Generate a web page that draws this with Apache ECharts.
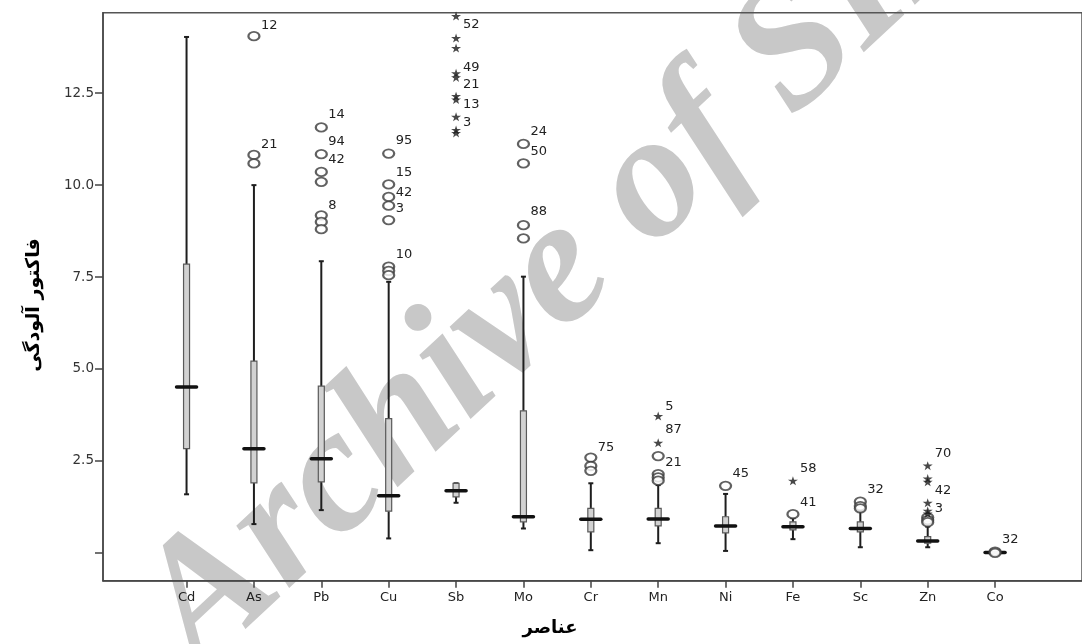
<!DOCTYPE html>
<html>
<head>
<meta charset="utf-8">
<script src="https://cdn.jsdelivr.net/npm/echarts@6/dist/echarts.min.js"></script>
<style>
html,body{margin:0;padding:0;background:#fff;}
#chart{width:1082px;height:644px;}
</style>
</head>
<body>
<div id="chart"></div>
<script>
// ---------- data ----------
const categories = ['Cd','As','Pb','Cu','Sb','Mo','Cr','Mn','Ni','Fe','Sc','Zn','Co'];
const whiskerLow  = [1.59, 0.78, 1.16, 0.39, 1.36, 0.66, 0.07, 0.26, 0.05, 0.37, 0.15, 0.15, 0.01];
const q1          = [2.83, 1.90, 1.93, 1.13, 1.52, 0.84, 0.57, 0.73, 0.54, 0.62, 0.57, 0.26, 0.01];
const median      = [4.51, 2.83, 2.56, 1.55, 1.69, 0.98, 0.91, 0.92, 0.73, 0.71, 0.66, 0.32, 0.01];
const q3          = [7.85, 5.21, 4.53, 3.65, 1.89, 3.86, 1.21, 1.21, 0.98, 0.84, 0.84, 0.44, 0.01];
const whiskerHigh = [14.03, 10.0, 7.93, 7.37, 1.89, 7.51, 1.89, 1.84, 1.60, 0.94, 1.14, 0.71, 0.01];

const circleOutliers = [
  ['As',14.05],['As',10.82],['As',10.59],
  ['Pb',11.57],['Pb',10.84],['Pb',10.36],['Pb',10.09],['Pb',9.18],['Pb',9.00],['Pb',8.80],
  ['Cu',10.86],['Cu',10.02],['Cu',9.68],['Cu',9.44],['Cu',9.05],['Cu',7.78],['Cu',7.67],['Cu',7.55],
  ['Mo',11.12],['Mo',10.59],['Mo',8.91],['Mo',8.55],
  ['Cr',2.59],['Cr',2.36],['Cr',2.23],
  ['Mn',2.63],['Mn',2.14],['Mn',2.05],['Mn',1.96],
  ['Ni',1.82],
  ['Fe',1.05],
  ['Sc',1.39],['Sc',1.27],['Sc',1.21],
  ['Zn',0.96],['Zn',0.89],['Zn',0.83],
  ['Co',0.03],['Co',0.0]
];
const starOutliers = [
  ['Sb',14.60],['Sb',14.00],['Sb',13.73],['Sb',13.04],['Sb',12.93],['Sb',12.42],['Sb',12.33],['Sb',11.86],['Sb',11.50],['Sb',11.42],
  ['Mn',3.72],['Mn',2.99],
  ['Fe',1.96],
  ['Zn',2.37],['Zn',2.02],['Zn',1.93],['Zn',1.36],['Zn',1.14],['Zn',1.07]
];
const outlierLabels = [
  ['As',14.35,'12'],['As',11.11,'21'],
  ['Pb',11.92,'14'],['Pb',11.18,'94'],['Pb',10.70,'42'],['Pb',9.44,'8'],
  ['Cu',11.20,'95'],['Cu',10.35,'15'],['Cu',9.80,'42'],['Cu',9.35,'3'],['Cu',8.12,'10'],
  ['Sb',14.37,'52'],['Sb',13.19,'49'],['Sb',12.74,'21'],['Sb',12.19,'13'],['Sb',11.69,'3'],
  ['Mo',11.45,'24'],['Mo',10.91,'50'],['Mo',9.27,'88'],
  ['Cr',2.87,'75'],
  ['Mn',3.97,'5'],['Mn',3.34,'87'],['Mn',2.45,'21'],
  ['Ni',2.14,'45'],
  ['Fe',2.28,'58'],['Fe',1.36,'41'],
  ['Sc',1.71,'32'],
  ['Zn',2.70,'70'],['Zn',1.68,'42'],['Zn',1.21,'3'],
  ['Co',0.36,'32']
];
const yTickValues  = [0, 2.5, 5, 7.5, 10, 12.5];
const yLabelValues = [2.5, 5, 7.5, 10, 12.5];
const xTitle = 'عناصر';
const yTitle = 'فاکتور آلودگی';
const watermark = 'Archive of SID';

// ---------- build ----------
const catPos = c => categories.indexOf(c) + 1;
const boxData = categories.map((c, i) => [i + 1, whiskerLow[i], q1[i], median[i], q3[i], whiskerHigh[i]]);
const circleData = circleOutliers.map(d => [catPos(d[0]), d[1]]);
const starData = starOutliers.map(d => [catPos(d[0]), d[1]]);
const labelData = outlierLabels.map(d => [catPos(d[0]), d[1]]);

const STAR = 'path://M50,0 L61,35 L98,35 L68,57 L79,91 L50,70 L21,91 L32,57 L2,35 L39,35 Z';

function renderBox(params, api) {
  const x = api.value(0);
  const lo = api.coord([x, api.value(1)]);
  const a = api.coord([x, api.value(2)]);
  const m = api.coord([x, api.value(3)]);
  const b = api.coord([x, api.value(4)]);
  const hi = api.coord([x, api.value(5)]);
  const cx = lo[0];
  const ws = {stroke: '#1e1e1e', lineWidth: 2};
  return {
    type: 'group',
    children: [
      {type: 'line', shape: {x1: cx, y1: hi[1], x2: cx, y2: b[1]}, style: ws},
      {type: 'line', shape: {x1: cx, y1: a[1], x2: cx, y2: lo[1]}, style: ws},
      {type: 'line', shape: {x1: cx - 2.5, y1: hi[1], x2: cx + 2.5, y2: hi[1]}, style: ws},
      {type: 'line', shape: {x1: cx - 2.5, y1: lo[1], x2: cx + 2.5, y2: lo[1]}, style: ws},
      {type: 'rect', shape: {x: cx - 3, y: b[1], width: 6, height: Math.max(a[1] - b[1], 0)},
        style: {fill: '#d2d2d2', stroke: '#5a5a5a', lineWidth: 1.2}},
      {type: 'line', shape: {x1: cx - 10, y1: m[1], x2: cx + 10, y2: m[1]},
        style: {stroke: '#111', lineWidth: 3.5, lineCap: 'round'}}
    ]
  };
}

function renderLabel(params, api) {
  const p = api.coord([api.value(0), api.value(1)]);
  return {
    type: 'text',
    x: p[0] + 7, y: p[1],
    style: {
      text: outlierLabels[params.dataIndex][2],
      fill: '#222', fontSize: 13, fontFamily: 'DejaVu Sans',
      align: 'left', verticalAlign: 'middle'
    }
  };
}

const chart = echarts.init(document.getElementById('chart'));
chart.setOption({
  backgroundColor: '#fff',
  animation: false,
  grid: {left: 103, top: 12.7, right: -10, bottom: 63.3, show: true,
    borderColor: '#555', borderWidth: 1.5, backgroundColor: 'transparent'},
  xAxis: {
    type: 'value', min: -0.24, max: 14.29,
    splitLine: {show: false},
    axisLine: {show: true, onZero: false, lineStyle: {color: '#444', width: 1.5}},
    axisTick: {show: true, length: 7, customValues: categories.map((c, i) => i + 1),
      lineStyle: {color: '#444', width: 1.5}},
    axisLabel: {customValues: categories.map((c, i) => i + 1), margin: 10,
      formatter: v => categories[Math.round(v) - 1] || '',
      color: '#222', fontSize: 13, fontFamily: 'DejaVu Sans'}
  },
  yAxis: {
    type: 'value', min: -0.76, max: 14.69,
    splitLine: {show: false},
    axisLine: {show: true, onZero: false, lineStyle: {color: '#444', width: 1.5}},
    axisTick: {show: true, length: 8, customValues: yTickValues,
      lineStyle: {color: '#444', width: 1.5}},
    axisLabel: {customValues: yLabelValues, margin: 9,
      formatter: v => v.toFixed(1),
      color: '#333', fontSize: 13.5, fontFamily: 'DejaVu Sans'}
  },
  graphic: [
    {type: 'text', x: 229, y: 703, rotation: 43 * Math.PI / 180, z: -10, silent: true,
      style: {text: watermark, fill: '#c8c8c8', fontSize: 178, fontStyle: 'italic',
        fontWeight: 'bold', fontFamily: '"Liberation Serif", "DejaVu Serif", serif',
        align: 'left', verticalAlign: 'bottom'}},
    {type: 'text', x: 34, y: 305, rotation: Math.PI / 2,
      style: {text: yTitle, fill: '#000', fontSize: 19, fontWeight: 'bold',
        fontFamily: 'DejaVu Sans', align: 'center', verticalAlign: 'middle'}},
    {type: 'text', x: 550, y: 628,
      style: {text: xTitle, fill: '#000', fontSize: 18, fontWeight: 'bold',
        fontFamily: 'DejaVu Sans', align: 'center', verticalAlign: 'middle'}}
  ],
  series: [
    {type: 'custom', name: 'box', renderItem: renderBox, data: boxData, z: 3, clip: false},
    {type: 'scatter', name: 'circles', data: circleData, symbol: 'emptyCircle',
      symbolSize: [11, 8.5], clip: false, z: 4,
      itemStyle: {color: '#3a3a3a', borderColor: '#3a3a3a', borderWidth: 1.4}},
    {type: 'scatter', name: 'stars', data: starData, symbol: STAR,
      symbolSize: [10, 9], clip: false, z: 4,
      itemStyle: {color: '#1a1a1a'}},
    {type: 'custom', name: 'labels', renderItem: renderLabel, data: labelData, z: 5, clip: false}
  ]
});
</script>
</body>
</html>
